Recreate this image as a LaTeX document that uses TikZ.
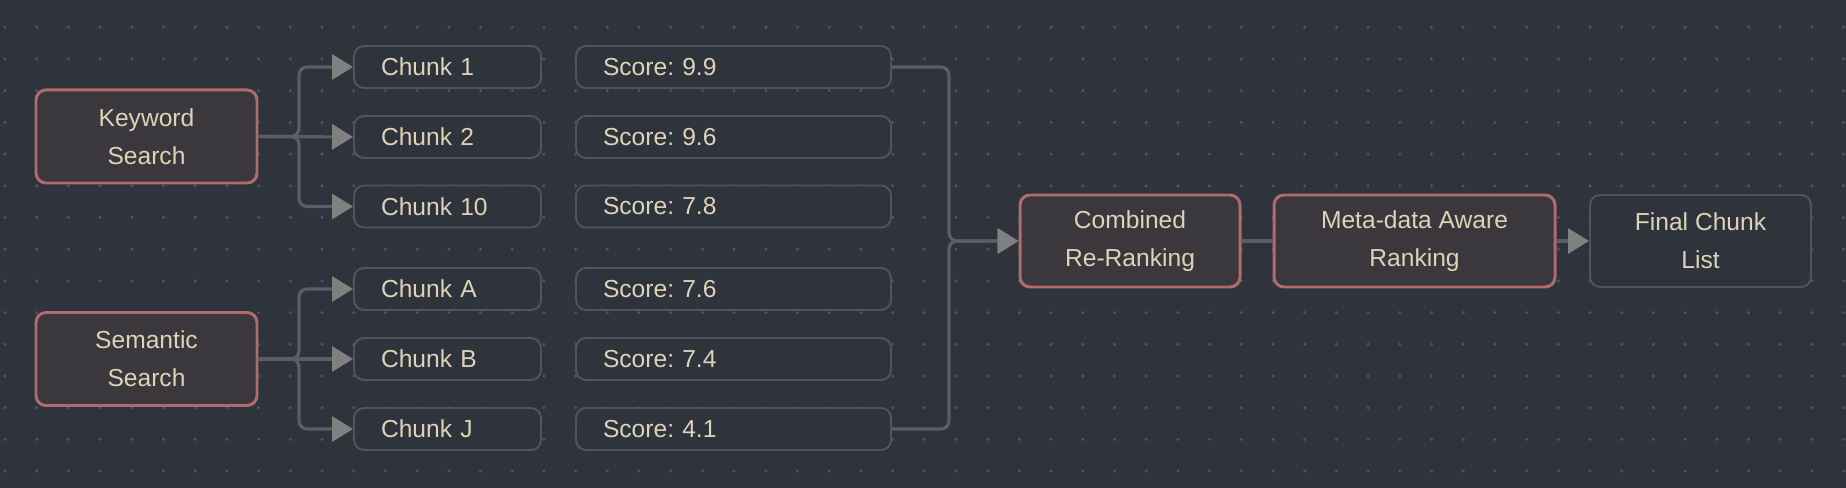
\documentclass[tikz,border=0pt]{standalone}
\usepackage{fontspec}
\setmainfont{Liberation Sans}
\usetikzlibrary{arrows.meta}
\frenchspacing
\definecolor{bgcol}{HTML}{2F333B}
\definecolor{dotcol}{HTML}{50545C}
\definecolor{fillred}{HTML}{3A383D}
\definecolor{redline}{HTML}{B06B6E}
\definecolor{boxline}{HTML}{50545C}
\definecolor{wirecol}{HTML}{5A5E66}
\definecolor{tipcol}{HTML}{808080}
\definecolor{txtcol}{HTML}{DDD3B8}
\begin{document}
\begin{tikzpicture}[
    font=\fontsize{14}{21.6}\selectfont, text=txtcol,
    stage/.style={draw=redline, line width=1.7pt, fill=fillred, rounded corners=0.2cm, minimum width=4.42cm, minimum height=1.86cm, align=center},
    final/.style={stage, draw=boxline, line width=1.1pt, fill=bgcol},
    result/.style={draw=boxline, line width=1.1pt, fill=bgcol, rounded corners=0.2cm, minimum height=0.84cm, inner xsep=0.54cm, align=left},
    chunk/.style={result, text width=2.66cm},
    score/.style={result, text width=5.22cm},
    wire/.style={draw=wirecol, line width=1.8pt, rounded corners=0.16cm},
    feed/.style={wire, -{Triangle[length=0.42cm, width=0.5cm, color=tipcol]}}
]
% Canvas with dot grid
\fill[bgcol] (0,0) rectangle (36.92,9.76);
\foreach \i in {0,...,58}
  \foreach \j in {0,...,14}
    \fill[dotcol] ({0.1+0.634*\i},{9.214-0.634*\j}) circle (0.034);

% Searches
\node[stage] (kw) at (2.93,7.03) {Keyword\\Search};
\node[stage] (sem) at (2.93,2.58) {Semantic\\Search};

% Retrieved chunks
\node[chunk] (c1) at (8.95,8.42) {Chunk 1};
\node[chunk] (c2) at (8.95,7.02) {Chunk 2};
\node[chunk] (c10) at (8.95,5.63) {Chunk 10};
\node[chunk] (ca) at (8.95,3.98) {Chunk A};
\node[chunk] (cb) at (8.95,2.58) {Chunk B};
\node[chunk] (cj) at (8.95,1.18) {Chunk J};

% Scores
\node[score] (s1) at (14.67,8.42) {Score: 9.9};
\node[score] (s2) at (14.67,7.02) {Score: 9.6};
\node[score] (s10) at (14.67,5.63) {Score: 7.8};
\node[score] (sa) at (14.67,3.98) {Score: 7.6};
\node[score] (sb) at (14.67,2.58) {Score: 7.4};
\node[score] (sj) at (14.67,1.18) {Score: 4.1};

% Ranking stages
\node[stage, minimum width=4.4cm, minimum height=1.84cm] (comb) at (22.6,4.94) {Combined\\Re-Ranking};
\node[stage, minimum width=5.62cm, minimum height=1.84cm] (meta) at (28.29,4.94) {Meta-data Aware\\Ranking};
\node[final, minimum height=1.84cm] (list) at (34.01,4.94) {Final Chunk\\List};

% Fan out
\coordinate (kwfork) at (5.98,7.03);
\coordinate (semfork) at (5.98,2.58);
\draw[feed] (kw.east) -- (kwfork) |- (c1.west);
\draw[feed] (kw.east) -- (c2.west);
\draw[feed] (kw.east) -- (kwfork) |- (c10.west);
\draw[feed] (sem.east) -- (semfork) |- (ca.west);
\draw[feed] (sem.east) -- (cb.west);
\draw[feed] (sem.east) -- (semfork) |- (cj.west);

% Merge and rank
\coordinate (join) at (18.98,4.94);
\draw[feed] (s1.east) -| (join) -- (comb.west);
\draw[feed] (sj.east) -| (join) -- (comb.west);
\draw[wire] (comb) -- (meta);
\draw[feed] (meta) -- (list);
\end{tikzpicture}
\end{document}
